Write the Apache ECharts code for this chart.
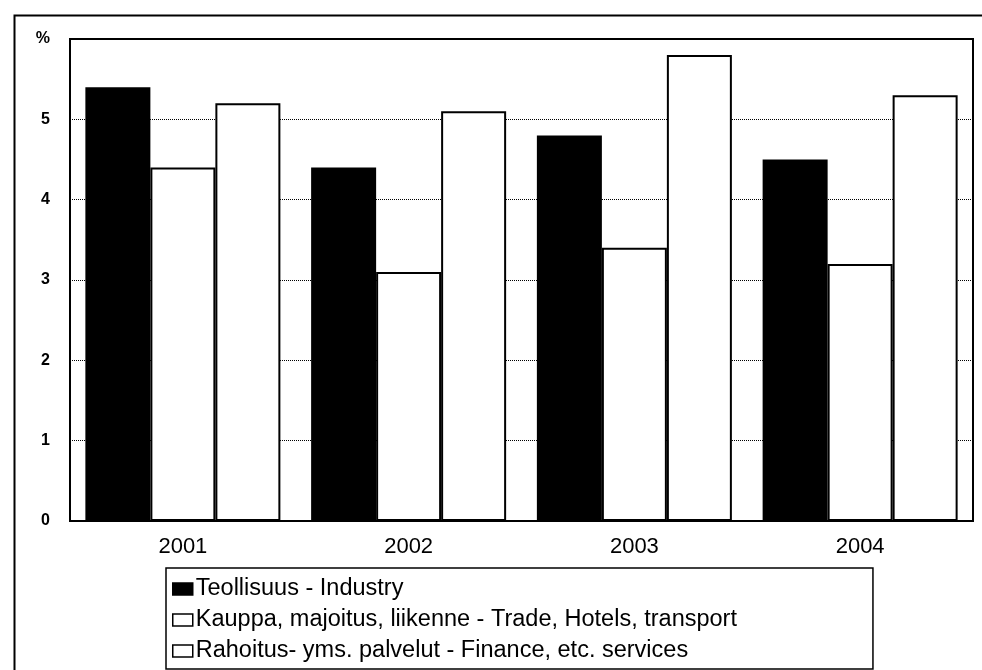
<!DOCTYPE html>
<html>
<head>
<meta charset="utf-8">
<script src="https://cdn.jsdelivr.net/npm/echarts@6/dist/echarts.min.js"></script>
<style>
  html, body { margin: 0; padding: 0; background: #fff; }
  #chartdiv { width: 982px; height: 670px; }
</style>
</head>
<body>
<div id="chartdiv"></div>
<script>
var years = ['2001', '2002', '2003', '2004'];
var seriesNames = [
  'Teollisuus - Industry',
  'Kauppa, majoitus, liikenne - Trade, Hotels, transport',
  'Rahoitus- yms. palvelut - Finance, etc. services'
];
var industry = [5.4, 4.4, 4.8, 4.5];
var trade = [4.4, 3.1, 3.4, 3.2];
var finance = [5.2, 5.1, 5.8, 5.3];

var font = '"Liberation Sans", Arial, sans-serif';

function barSeries(name, data, fill) {
  return {
    name: name,
    type: 'bar',
    data: data,
    barWidth: 65,
    barGap: '0%',
    itemStyle: {
      color: fill,
      borderColor: '#000',
      borderWidth: 2
    }
  };
}

var myChart = echarts.init(document.getElementById('chartdiv'));
var option = {
  animation: false,
  backgroundColor: '#fff',
  textStyle: { fontFamily: font, color: '#000' },
  graphic: [{
    type: 'rect',
    left: 12,
    top: 13,
    shape: { width: 990, height: 680 },
    style: { fill: 'none', stroke: '#000', lineWidth: 2 },
    silent: true
  }],
  grid: {
    left: 70,
    right: 9,
    top: 39,
    bottom: 149,
    show: true,
    borderColor: '#000',
    borderWidth: 2,
    backgroundColor: 'transparent'
  },
  legend: {
    orient: 'vertical',
    left: 166,
    top: 568,
    itemWidth: 20,
    itemHeight: 12,
    itemGap: 7,
    padding: [9, 136, 6, 6],
    backgroundColor: '#fff',
    borderColor: '#000',
    borderWidth: 1.5,
    borderRadius: 0,
    icon: 'rect',
    itemStyle: { borderColor: '#000', borderWidth: 1.5 },
    textStyle: { fontFamily: font, fontSize: 23.5, color: '#000', padding: [0, 0, 0, -2], lineHeight: 23 },
    data: seriesNames
  },
  xAxis: {
    type: 'category',
    data: years,
    axisLine: { lineStyle: { color: '#000', width: 2 } },
    axisTick: { show: false },
    axisLabel: { fontFamily: font, fontSize: 22, color: '#000', margin: 15 }
  },
  yAxis: {
    type: 'value',
    min: 0,
    max: 6,
    interval: 1,
    axisLine: { show: true, lineStyle: { color: '#000', width: 2 } },
    axisTick: { show: false },
    axisLabel: {
      fontFamily: font,
      fontSize: 16,
      fontWeight: 'bold',
      color: '#000',
      margin: 20,
      formatter: function (v) { return v === 6 ? '%' : String(v); }
    },
    splitLine: { lineStyle: { color: '#000', type: 'dotted', width: 1 } }
  },
  series: [
    barSeries(seriesNames[0], industry, '#000'),
    barSeries(seriesNames[1], trade, '#fff'),
    barSeries(seriesNames[2], finance, '#fff')
  ]
};
myChart.setOption(option);
</script>
</body>
</html>
